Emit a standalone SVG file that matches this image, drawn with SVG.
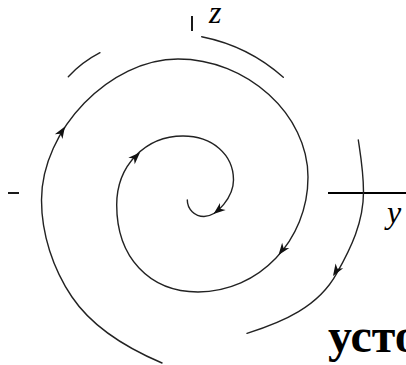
<svg xmlns="http://www.w3.org/2000/svg" xmlns:xlink="http://www.w3.org/1999/xlink" width="406" height="365" viewBox="0 0 406 365">
<style>
.traj{fill:none;stroke:#222;stroke-width:1.4;stroke-linecap:round}
.axis{fill:none;stroke:#000;stroke-width:1.8}
.arr{fill:#111}
.lbl{font-family:"Liberation Serif","Times New Roman",serif;font-style:italic;font-size:32px;fill:#000}
.cap{font-family:"Liberation Serif","Times New Roman",serif;font-weight:bold;font-size:48px;fill:#000}
</style>
<defs>
<path id="ah" d="M0,0 L-12,-4.5 L-8.5,0 L-12,4.5 Z"/>
</defs>
<rect width="406" height="365" fill="#fff"/>
<g id="axes">
<line class="axis" x1="192" y1="16" x2="192" y2="31"/>
<line class="axis" x1="8" y1="193" x2="19" y2="193"/>
<line class="axis" x1="328" y1="193" x2="406" y2="193"/>
</g>
<g id="trajectories">
<path class="traj" d="M162,363 C128,348.6 92.7,327.7 72,297 C53,268.8 41.5,234 41.5,200 C41.5,129.5 110.25,59 178,59 C246.9,59 308,114.5 308,177 C308,240.5 258.75,292 198,292 C149.2,292 116.7,257.2 116.7,205 C116.7,165.7 145.2,136 183,136 C212.3,136 233.5,154.5 233.5,180 C233.5,196.4 217.3,216.5 204,216.5 C194.8,216.5 187.3,209.1 187.3,200"/>
<path class="traj" d="M68.3,76.7 Q82,62 100,52.7"/>
<path class="traj" d="M201.7,36.7 Q248.6,46.1 283.3,77.3"/>
<path class="traj" d="M358.3,140 C361,158 363.5,172 363.5,192 C363.5,222 351,248 336.7,273.3 C318.5,306.7 283.1,321.9 247,333.3"/>
</g>
<g id="arrows" class="arr">
<use xlink:href="#ah" transform="translate(65,126.5) rotate(-58)"/>
<use xlink:href="#ah" transform="translate(140,152.5) rotate(-45)"/>
<use xlink:href="#ah" transform="translate(278.5,255) rotate(127)"/>
<use xlink:href="#ah" transform="translate(333,276) rotate(122)"/>
<use xlink:href="#ah" transform="translate(213.5,214) rotate(141)"/>
</g>
<g id="labels">
<text class="lbl" x="209" y="23">z</text>
<text class="lbl" x="387" y="223">y</text>
<text class="cap" x="328" y="352">усто</text>
</g>
</svg>
